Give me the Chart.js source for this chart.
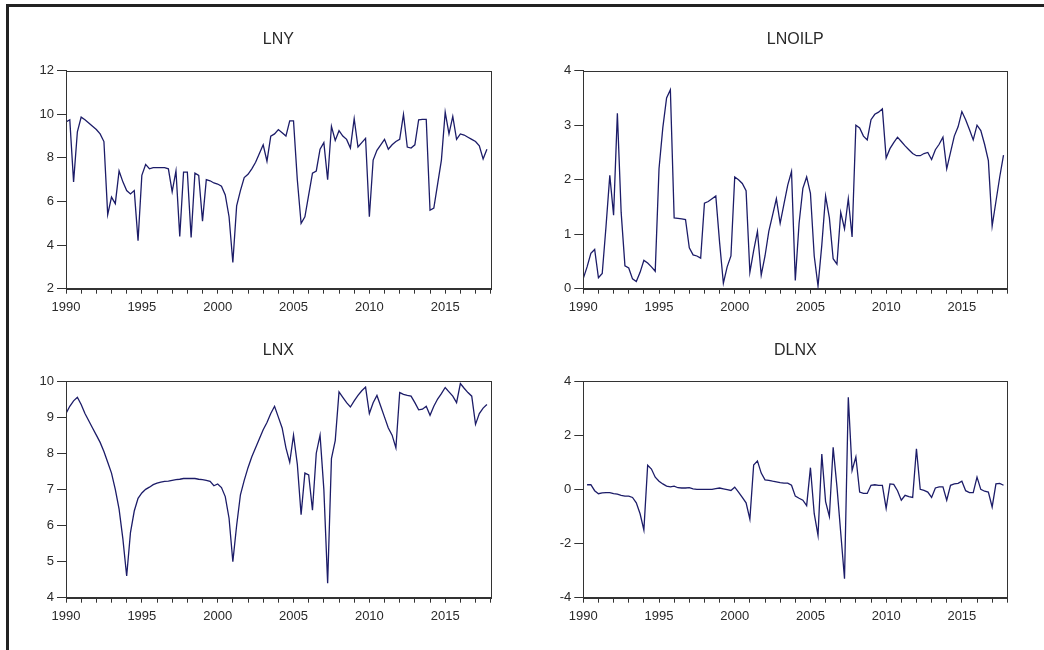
<!DOCTYPE html>
<html>
<head>
<meta charset="utf-8">
<title>LNY LNOILP LNX DLNX</title>
<script src="https://cdn.jsdelivr.net/npm/chart.js@4.4.1/dist/chart.umd.min.js"></script>
<style>
    html, body { margin: 0; padding: 0; background: #fff; }
    body { width: 1044px; height: 650px; position: relative; overflow: hidden; }
    .frame {
        position: absolute; left: 6px; top: 4px; width: 1060px; height: 680px;
        border-top: 3px solid #222; border-left: 3px solid #222;
    }
    canvas { position: absolute; }
</style>
</head>
<body>
<div class="frame"></div>
<canvas id="chartLny" width="520" height="300" style="left:0;top:20px"></canvas>
<canvas id="chartOil" width="524" height="300" style="left:520px;top:20px"></canvas>
<canvas id="chartLnx" width="520" height="298" style="left:0;top:331px"></canvas>
<canvas id="chartDlnx" width="524" height="298" style="left:520px;top:331px"></canvas>

<script>
// quarterly data, 1990Q1 .. 2017Q4 (8 values = 2 years per row)
const startYear = 1990;

const lny = [
    9.65, 9.75, 6.9, 9.2, 9.87, 9.75, 9.6, 9.45,
    9.3, 9.1, 8.75, 5.4, 6.2, 5.9, 7.4, 6.9,
    6.5, 6.35, 6.5, 4.2, 7.2, 7.7, 7.5, 7.55,
    7.55, 7.55, 7.55, 7.5, 6.45, 7.4, 4.4, 7.35,
    7.35, 4.35, 7.3, 7.2, 5.1, 7.0, 6.95, 6.85,
    6.8, 6.7, 6.3, 5.3, 3.2, 5.8, 6.5, 7.1,
    7.25, 7.5, 7.8, 8.2, 8.6, 7.85, 9.0, 9.1,
    9.3, 9.15, 9.0, 9.7, 9.7, 7.0, 5.0, 5.3,
    6.3, 7.3, 7.4, 8.4, 8.7, 7.0, 9.45, 8.8,
    9.25, 9.0, 8.85, 8.45, 9.8, 8.5, 8.7, 8.9,
    5.3, 7.9, 8.35, 8.6, 8.85, 8.4, 8.6, 8.75,
    8.85, 10.0, 8.5, 8.45, 8.6, 9.75, 9.77, 9.77,
    5.6, 5.7, 6.8, 7.9, 10.1, 9.1, 9.9, 8.85,
    9.1, 9.05, 8.95, 8.85, 8.75, 8.55, 7.95, 8.4
];

const lnoilp = [
    0.19, 0.4, 0.65, 0.72, 0.2, 0.28, 1.14, 2.08,
    1.35, 3.22, 1.4, 0.42, 0.38, 0.18, 0.13, 0.3,
    0.52, 0.47, 0.4, 0.32, 2.2, 2.95, 3.5, 3.65,
    1.3, 1.29, 1.28, 1.27, 0.75, 0.62, 0.6, 0.56,
    1.57, 1.6, 1.65, 1.7, 0.85, 0.1, 0.4, 0.6,
    2.05, 2.0, 1.93, 1.8, 0.3, 0.7, 1.05, 0.25,
    0.6, 1.05, 1.35, 1.65, 1.2, 1.55, 1.9, 2.15,
    0.15, 1.2, 1.84, 2.05, 1.75, 0.6, 0.05, 0.8,
    1.7, 1.3, 0.55, 0.45, 1.4, 1.1, 1.65, 0.95,
    3.0, 2.95, 2.8, 2.73, 3.1, 3.2, 3.24, 3.3,
    2.4, 2.57, 2.68, 2.78, 2.7, 2.62, 2.55, 2.48,
    2.44, 2.44, 2.48, 2.5, 2.37, 2.55, 2.65, 2.78,
    2.2, 2.5, 2.8, 2.97, 3.25, 3.1, 2.92, 2.73,
    3.0, 2.9, 2.65, 2.35, 1.15, 1.6, 2.05, 2.45
];

const lnx = [
    9.1, 9.3, 9.45, 9.55, 9.35, 9.1, 8.9, 8.7,
    8.5, 8.3, 8.05, 7.75, 7.45, 7.0, 6.45, 5.63,
    4.6, 5.8, 6.4, 6.75, 6.9, 7.0, 7.06, 7.13,
    7.17, 7.2, 7.22, 7.23, 7.25, 7.27, 7.28, 7.3,
    7.3, 7.3, 7.3, 7.28, 7.27, 7.25, 7.22, 7.1,
    7.15, 7.05, 6.8, 6.2, 5.0, 6.0, 6.85, 7.25,
    7.6, 7.9, 8.15, 8.4, 8.65, 8.85, 9.1, 9.3,
    9.0, 8.7, 8.15, 7.75, 8.5, 7.7, 6.3, 7.45,
    7.4, 6.42, 8.0, 8.5, 7.0, 4.4, 7.85, 8.35,
    9.7, 9.55, 9.4, 9.28, 9.45, 9.6, 9.73, 9.83,
    9.1, 9.4, 9.6, 9.3, 9.0, 8.7, 8.5, 8.15,
    9.68, 9.63, 9.6, 9.58, 9.4, 9.2, 9.22, 9.3,
    9.05, 9.3, 9.5, 9.65, 9.82, 9.7, 9.58, 9.4,
    9.93, 9.8, 9.68, 9.58, 8.8, 9.1, 9.25, 9.35
];

// first difference, so the first quarter is missing
const dlnx = [
    null, 0.17, 0.17, -0.05, -0.16, -0.13, -0.12, -0.12,
    -0.16, -0.18, -0.22, -0.25, -0.25, -0.3, -0.5, -0.9,
    -1.5, 0.89, 0.75, 0.45, 0.3, 0.2, 0.12, 0.09,
    0.12, 0.06, 0.05, 0.05, 0.06, 0.02, 0.0, 0.0,
    0.0, 0.0, 0.0, 0.03, 0.05, 0.02, -0.01, -0.04,
    0.08, -0.1, -0.3, -0.5, -1.1, 0.9, 1.05, 0.6,
    0.35, 0.33, 0.3, 0.28, 0.25, 0.23, 0.23, 0.15,
    -0.25, -0.33, -0.4, -0.6, 0.8, -0.9, -1.7, 1.3,
    -0.45, -1.0, 1.55, 0.1, -1.6, -3.3, 3.4, 0.7,
    1.2, -0.1, -0.15, -0.15, 0.15, 0.17, 0.15, 0.15,
    -0.7, 0.2, 0.18, -0.05, -0.4, -0.22, -0.27, -0.3,
    1.5, 0.0, -0.04, -0.1, -0.3, 0.05, 0.09, 0.09,
    -0.4, 0.15, 0.2, 0.22, 0.3, -0.05, -0.12, -0.12,
    0.45, 0.0, -0.07, -0.1, -0.65, 0.2, 0.22, 0.15
];

// y axis ranges per panel
const lnyTicks = { min: 2, max: 12, step: 2 };
const oilTicks = { min: 0, max: 4, step: 1 };
const lnxTicks = { min: 4, max: 10, step: 1 };
const dlnxTicks = { min: -4, max: 4, step: 2 };

document.addEventListener("DOMContentLoaded", function () {
    const lineColor = "#1c1c68";
    const inkColor = "#2a2a2a";
    const fontFamily = "'Liberation Sans', Arial, sans-serif";

    // plot frame: close the box on top and right side too
    const plotFrame = {
        id: "plotFrame",
        afterDraw: function (chart) {
            const a = chart.chartArea;
            const ctx = chart.ctx;
            ctx.save();
            ctx.strokeStyle = "#333";
            ctx.lineWidth = 1;
            ctx.strokeRect(Math.round(a.left) + 0.5, Math.round(a.top) + 0.5,
                Math.round(a.width), Math.round(a.height));
            ctx.restore();
        }
    };

    function toPoints(values) {
        return values.map((v, i) => ({ x: startYear + i / 4, y: v }));
    }

    function makePanel(id, title, values, yr, box) {
        const ctx = document.getElementById(id).getContext("2d");
        return new Chart(ctx, {
            type: "line",
            data: {
                datasets: [{
                    label: title,
                    data: toPoints(values),
                    borderColor: lineColor,
                    borderWidth: 1.3,
                    pointRadius: 0,
                    tension: 0,
                    spanGaps: false
                }]
            },
            options: {
                responsive: false,
                animation: false,
                layout: { padding: { left: box.padLeft, right: box.padRight, top: 0, bottom: 0 } },
                plugins: {
                    legend: { display: false },
                    tooltip: { enabled: false },
                    title: {
                        display: true,
                        text: title,
                        fullSize: false,
                        color: inkColor,
                        font: { family: fontFamily, size: 16, weight: "normal" },
                        padding: { top: 10, bottom: box.titleGap }
                    }
                },
                scales: {
                    x: {
                        type: "linear",
                        min: 1990,
                        max: 2018,
                        afterFit: function (scale) { scale.height = 31.3; },
                        border: { display: true, color: "#333" },
                        grid: { drawOnChartArea: false, drawTicks: true, tickLength: 5, color: "#333" },
                        ticks: {
                            stepSize: 1,
                            autoSkip: false,
                            maxRotation: 0,
                            padding: 6,
                            color: inkColor,
                            font: { family: fontFamily, size: 13 },
                            callback: function (value) {
                                return value % 5 === 0 ? String(value) : "";
                            }
                        }
                    },
                    y: {
                        min: yr.min,
                        max: yr.max,
                        afterFit: function (scale) { scale.width = box.axisWidth; },
                        border: { display: true, color: "#333" },
                        grid: { drawOnChartArea: false, drawTicks: true, tickLength: 9, color: "#333" },
                        ticks: {
                            stepSize: yr.step,
                            padding: 3,
                            color: inkColor,
                            font: { family: fontFamily, size: 13 }
                        }
                    }
                }
            },
            plugins: [plotFrame]
        });
    }

    makePanel("chartLny", "LNY", lny, lnyTicks,
        { padLeft: 10, axisWidth: 56, padRight: 29.3, titleGap: 21.5 });
    makePanel("chartOil", "LNOILP", lnoilp, oilTicks,
        { padLeft: 10, axisWidth: 53.3, padRight: 36.7, titleGap: 21.5 });
    makePanel("chartLnx", "LNX", lnx, lnxTicks,
        { padLeft: 10, axisWidth: 56, padRight: 29.3, titleGap: 20.8 });
    makePanel("chartDlnx", "DLNX", dlnx, dlnxTicks,
        { padLeft: 10, axisWidth: 53.3, padRight: 36.7, titleGap: 20.8 });
});
</script>
</body>
</html>
